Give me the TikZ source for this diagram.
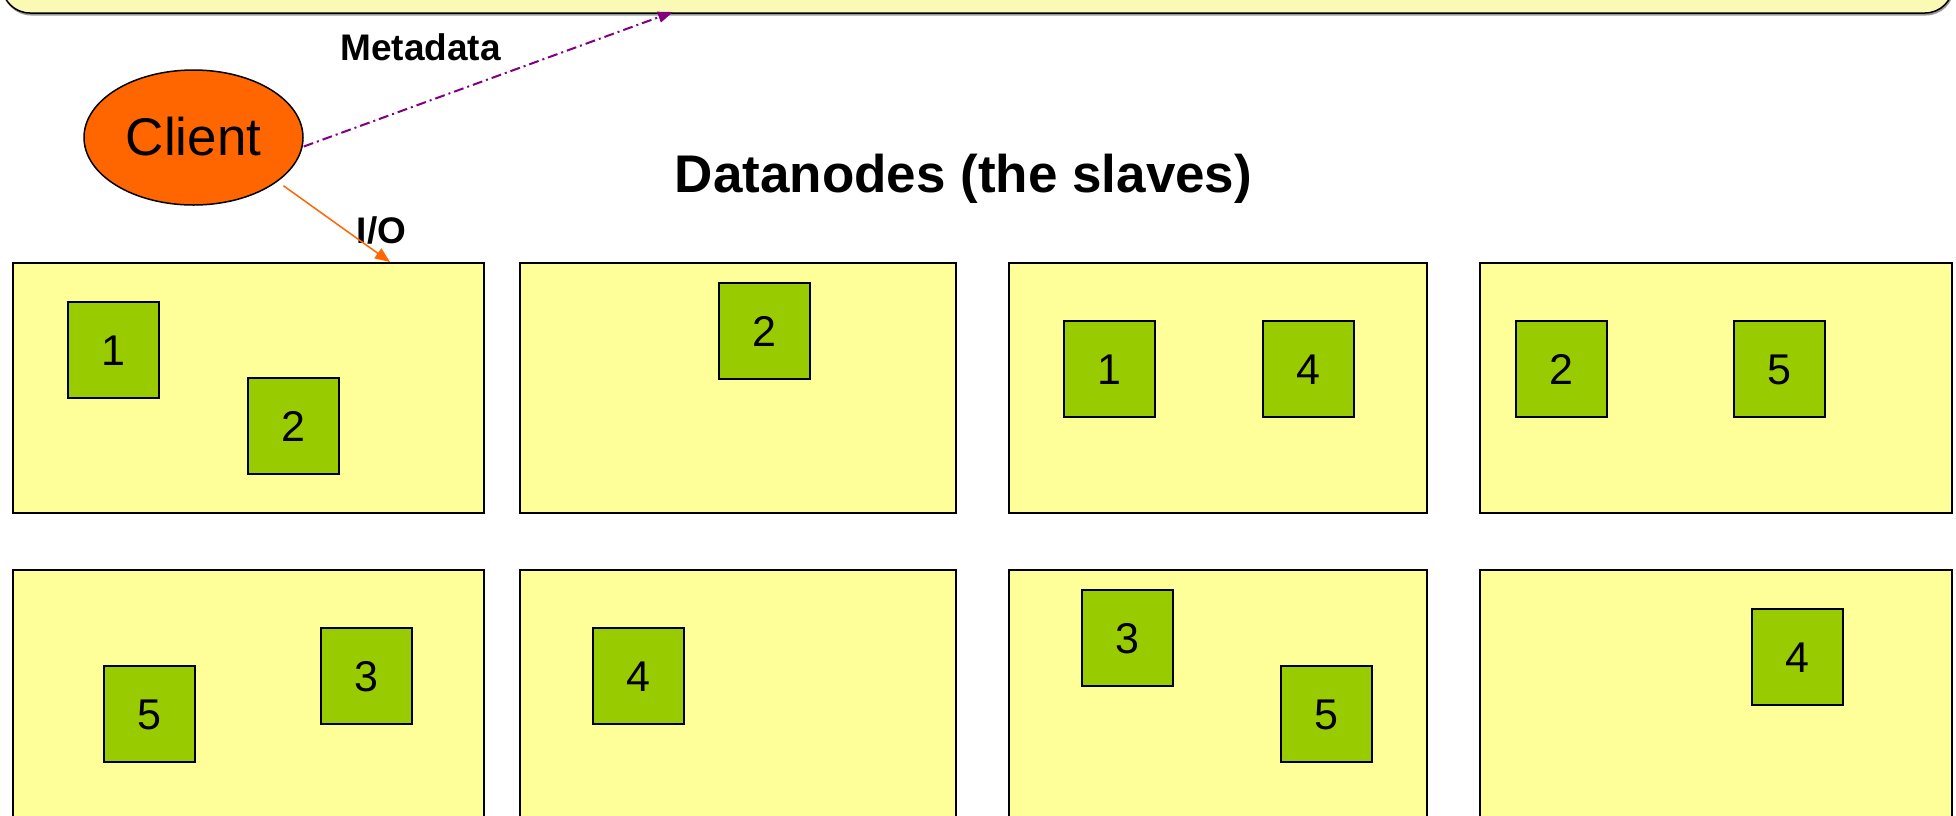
\documentclass[tikz,border=0pt]{standalone}
\usepackage{fontspec}
\setmainfont{Liberation Sans}
\usetikzlibrary{arrows.meta,shadows,shapes.geometric}
\definecolor{dnyellow}{HTML}{FFFF99}
\definecolor{blkgreen}{HTML}{99CC00}
\definecolor{clientorange}{HTML}{FF6600}
\definecolor{metapurple}{HTML}{800080}
\definecolor{nnyellow}{HTML}{FAFAB4}
\begin{document}
\begin{tikzpicture}[x=1pt,y=-1pt,
  datanode/.style={draw=black, line width=1.5pt, fill=dnyellow, minimum width=#1, minimum height=250pt, inner sep=0pt, anchor=north west},
  block/.style={draw=black, line width=1.5pt, fill=blkgreen, minimum width=91pt, minimum height=96pt, inner sep=0pt, anchor=north west, font=\fontsize{43}{43}\selectfont, text height=31pt, text depth=0pt},
  nnbox/.style={draw=black, line width=1.5pt, fill=nnyellow, rounded corners=28pt, minimum width=1951pt, minimum height=53pt, inner sep=0pt,
     drop shadow={shadow xshift=1pt, shadow yshift=-2.5pt, fill=black!40, opacity=1}},
  clientnode/.style={ellipse, draw=black, line width=1.5pt, fill=clientorange, minimum width=219pt, minimum height=135pt, inner sep=0pt, font=\fontsize{53}{53}\selectfont, text height=38pt, text depth=3pt},
  lbl/.style={font=\fontsize{37}{37}\selectfont\bfseries, inner sep=0pt, anchor=base},
  titlelbl/.style={font=\fontsize{53}{53}\selectfont\bfseries, inner sep=0pt, anchor=base},
  ioarrow/.style={draw=clientorange, line width=1.5pt, -{Triangle[length=15pt,width=12pt]}},
  metaarrow/.style={draw=metapurple, line width=2pt, dash pattern=on 10pt off 4pt on 2pt off 4pt, -{Triangle[length=15pt,width=11pt]}}
]
\useasboundingbox (0,0) rectangle (1956,815);
\clip (0,0) rectangle (1956,815);

% namenode box (top, cut off)
\node[nnbox] (namenode) at (977.5,-13.5) {};

% datanodes, top row
\node[datanode=471pt] (dn1) at (12,262) {};
\node[datanode=436pt] (dn2) at (519,262) {};
\node[datanode=418pt] (dn3) at (1008,262) {};
\node[datanode=472pt] (dn4) at (1479,262) {};
% datanodes, bottom row
\node[datanode=471pt] (dn5) at (12,569) {};
\node[datanode=436pt] (dn6) at (519,569) {};
\node[datanode=418pt] (dn7) at (1008,569) {};
\node[datanode=472pt] (dn8) at (1479,569) {};

% blocks
\node[block] (b1a) at (67,301) {1};
\node[block] (b1b) at (247,377) {2};
\node[block] (b2a) at (718,282) {2};
\node[block] (b3a) at (1063,320) {1};
\node[block] (b3b) at (1262,320) {4};
\node[block] (b4a) at (1515,320) {2};
\node[block] (b4b) at (1733,320) {5};
\node[block] (b5a) at (103,665) {5};
\node[block] (b5b) at (320,627) {3};
\node[block] (b6a) at (592,627) {4};
\node[block] (b7a) at (1081,589) {3};
\node[block] (b7b) at (1280,665) {5};
\node[block] (b8a) at (1751,608) {4};

% client
\node[clientnode] (client) at (193.5,137.5) {Client};

% labels
\node[lbl] (metalbl) at (420.5,60) {Metadata};
\node[lbl] (iolbl) at (381.5,243) {I/O};
\node[titlelbl] (title) at (963.5,192) {Datanodes (the slaves)};

% connectors
\coordinate (iotip) at (390,262);
\coordinate (metatip) at (673,12);
\draw[ioarrow] ([xshift=12pt]client.south east) -- (iotip);
\draw[metaarrow] ([yshift=-9pt]client.east) -- (metatip);
\end{tikzpicture}
\end{document}
